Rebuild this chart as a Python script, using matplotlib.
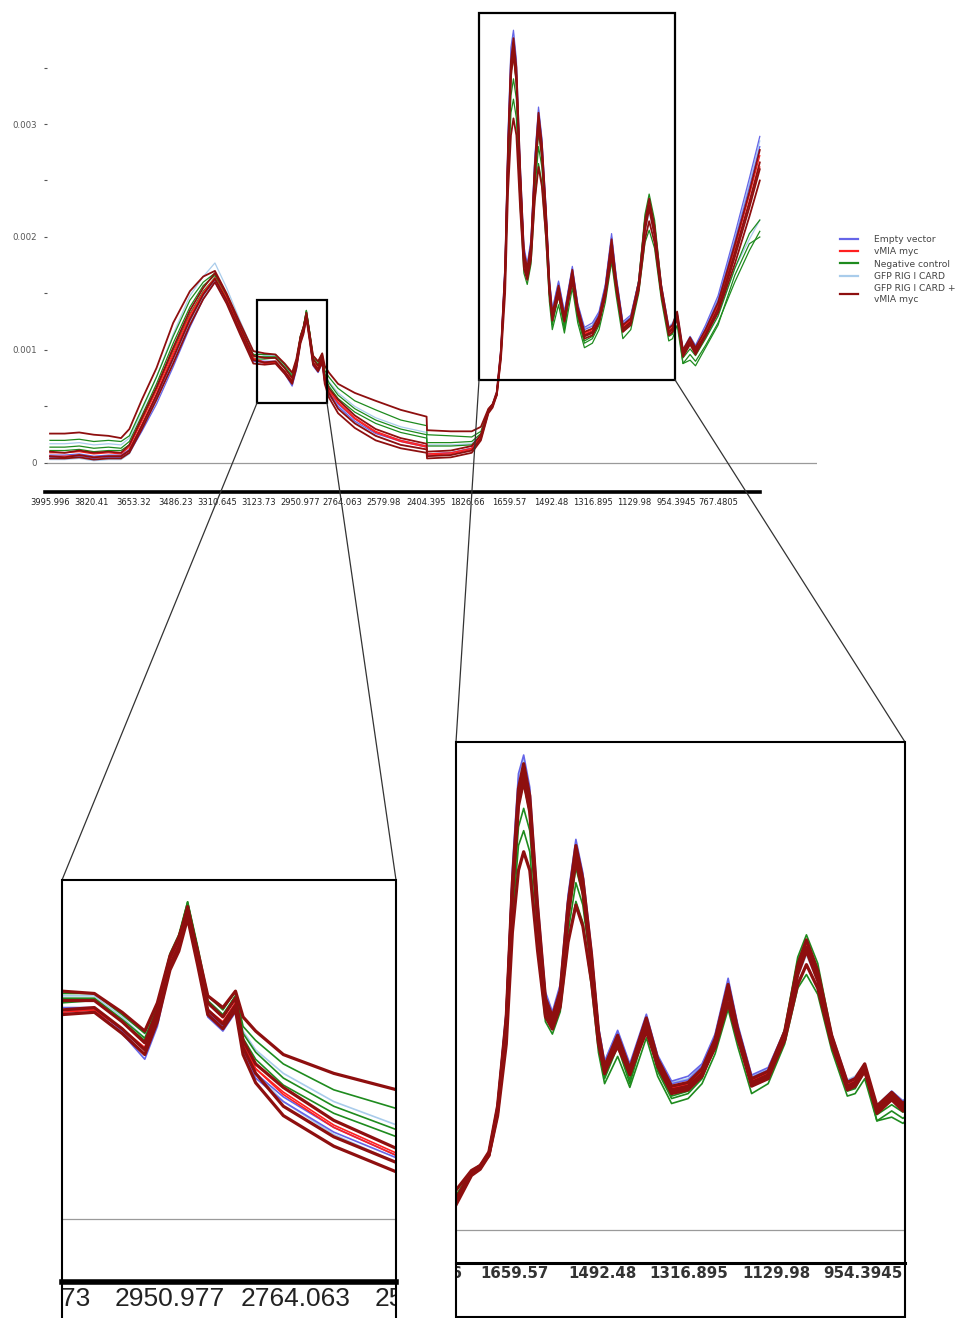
import numpy as np
import matplotlib.pyplot as plt
from matplotlib.lines import Line2D
from matplotlib.patches import Rectangle, ConnectionPatch
from matplotlib.transforms import Bbox, TransformedBbox

# category axis: one unit between two printed wavenumber labels
wavenumber_labels = ["3995.996", "3820.41", "3653.32", "3486.23", "3310.645",
                     "3123.73", "2950.977", "2764.063", "2579.98", "2404.395",
                     "1826.66", "1659.57", "1492.48", "1316.895", "1129.98",
                     "954.3945", "767.4805"]

position = [
    0.00, 0.35, 0.70, 1.05, 1.40, 1.70,
    1.90, 2.20, 2.55, 2.95, 3.35, 3.67, 3.95, 4.23, 4.55, 4.87,
    5.14, 5.40, 5.62, 5.80, 5.90, 6.00, 6.07, 6.14, 6.22, 6.30, 6.42, 6.52, 6.58, 6.68,
    6.90, 7.30, 7.80, 8.40, 9.02, 9.03, 9.60, 10.10,
    10.32, 10.50, 10.60, 10.70, 10.80, 10.90, 10.97, 11.04, 11.10, 11.17,
    11.26, 11.35, 11.43, 11.52, 11.61, 11.70, 11.78, 11.88, 11.96, 12.03,
    12.18, 12.32, 12.51, 12.64, 12.80, 12.99, 13.15, 13.30, 13.45, 13.56,
    13.72, 13.91, 14.10, 14.25, 14.35, 14.48, 14.64, 14.82, 14.91, 15.02,
    15.16, 15.33, 15.46, 15.70, 16.00, 16.40, 16.75, 17.00,
]

# absorbance of each replicate, in units of 1e-5
empty_vector = [
    [5, 5, 6, 4, 5, 5,
     9, 28, 52, 85, 120, 145, 160, 142, 115, 90,
     89, 89, 79, 68, 82, 107, 115, 129, 109, 86, 80, 88, 71, 60,
     50, 37, 26, 19, 14, 8, 9, 13,
     24, 47, 52, 63, 102, 178, 292, 368, 383, 357,
     266, 192, 176, 198, 270, 315, 288, 226, 164, 136,
     161, 134, 174, 141, 120, 124, 134, 158, 203, 166,
     125, 131, 161, 210, 228, 205, 158, 120, 123, 133,
     100, 112, 104, 122, 148, 202, 252, 289],
    [7, 7, 8, 6, 7, 7,
     12, 33, 58, 92, 126, 149, 162, 144, 117, 91,
     90, 90, 80, 70, 84, 108, 116, 130, 110, 88, 82, 90, 72, 62,
     52, 39, 27, 20, 15, 8, 9, 13,
     24, 46, 51, 62, 100, 174, 284, 360, 372, 348,
     260, 188, 173, 195, 266, 310, 284, 223, 162, 134,
     159, 132, 172, 139, 118, 121, 132, 156, 200, 164,
     123, 129, 160, 211, 229, 206, 156, 119, 122, 133,
     99, 110, 102, 119, 144, 196, 244, 280],
]

vmia_myc = [
    [6, 6, 7, 5, 6, 6,
     11, 34, 61, 96, 129, 150, 163, 145, 118, 92,
     88, 89, 81, 73, 87, 109, 117, 131, 111, 89, 83, 92, 74, 64,
     53, 39, 27, 19, 14, 7, 8, 12,
     23, 46, 51, 62, 99, 171, 278, 354, 370, 345,
     258, 186, 171, 192, 262, 308, 281, 221, 159, 131,
     156, 129, 170, 137, 115, 118, 129, 153, 197, 161,
     121, 127, 158, 210, 229, 205, 155, 117, 120, 132,
     98, 109, 100, 116, 140, 190, 237, 272],
    [9, 9, 10, 8, 9, 8,
     14, 37, 64, 98, 131, 151, 164, 146, 119, 93,
     89, 89, 81, 72, 86, 108, 116, 130, 110, 89, 84, 92, 74, 64,
     54, 40, 28, 20, 15, 8, 9, 13,
     24, 46, 51, 62, 98, 168, 274, 348, 360, 338,
     254, 183, 168, 189, 256, 300, 276, 218, 157, 130,
     155, 128, 168, 136, 114, 117, 128, 151, 194, 159,
     120, 126, 158, 211, 230, 206, 155, 117, 120, 131,
     97, 108, 99, 115, 138, 186, 230, 262],
]

negative_control = [
    [20, 20, 21, 19, 20, 19,
     24, 48, 76, 112, 144, 160, 168, 148, 121, 96,
     96, 96, 87, 79, 91, 113, 121, 135, 116, 95, 89, 97, 82, 76,
     66, 55, 47, 38, 33, 25, 24, 23,
     28, 47, 52, 61, 95, 160, 258, 325, 340, 322,
     242, 178, 165, 183, 240, 280, 262, 207, 150, 122,
     148, 118, 164, 128, 106, 110, 122, 150, 190, 157,
     116, 124, 162, 220, 238, 215, 158, 112, 114, 128,
     88, 96, 90, 104, 124, 160, 188, 205],
    [14, 14, 15, 13, 14, 13,
     19, 42, 70, 106, 138, 157, 166, 146, 119, 94,
     94, 94, 85, 77, 90, 112, 120, 134, 115, 93, 87, 95, 79, 71,
     60, 48, 38, 30, 25, 18, 18, 19,
     26, 47, 52, 62, 97, 165, 268, 345, 360, 336,
     250, 180, 166, 186, 250, 292, 270, 212, 152, 124,
     150, 121, 165, 130, 108, 112, 124, 151, 193, 158,
     117, 125, 161, 217, 234, 211, 155, 113, 115, 130,
     93, 101, 95, 110, 130, 172, 203, 215],
    [11, 11, 12, 10, 11, 11,
     16, 38, 66, 100, 132, 152, 164, 144, 117, 92,
     92, 93, 84, 76, 89, 112, 120, 135, 115, 92, 86, 95, 77, 68,
     57, 45, 35, 27, 22, 15, 15, 16,
     24, 46, 51, 61, 95, 160, 250, 310, 322, 305,
     228, 168, 158, 176, 232, 265, 248, 196, 143, 118,
     140, 115, 155, 124, 102, 106, 118, 142, 178, 148,
     110, 118, 150, 195, 206, 190, 145, 108, 110, 122,
     88, 91, 86, 102, 122, 166, 194, 200],
]

gfp_rig_card = [
    [17, 17, 18, 16, 17, 16,
     22, 46, 76, 114, 148, 165, 177, 155, 126, 99,
     95, 95, 86, 77, 90, 112, 120, 133, 114, 93, 87, 95, 80, 72,
     62, 50, 40, 32, 27, 16, 16, 17,
     26, 47, 52, 63, 101, 175, 287, 364, 380, 353,
     262, 189, 174, 196, 268, 312, 286, 224, 163, 136,
     160, 133, 172, 140, 119, 122, 133, 157, 199, 164,
     124, 130, 161, 212, 231, 208, 158, 121, 124, 134,
     101, 112, 104, 120, 146, 198, 248, 285],
    [3, 3, 4, 2, 3, 3,
     8, 29, 55, 90, 124, 147, 162, 143, 116, 90,
     88, 88, 79, 70, 84, 107, 115, 129, 109, 87, 81, 89, 71, 62,
     50, 36, 24, 16, 12, 6, 7, 11,
     22, 45, 50, 61, 97, 168, 272, 345, 362, 337,
     252, 181, 166, 187, 255, 298, 273, 215, 155, 128,
     152, 126, 166, 134, 112, 115, 126, 150, 192, 157,
     118, 124, 155, 204, 222, 200, 152, 115, 118, 129,
     95, 105, 97, 110, 130, 172, 198, 215],
]

gfp_rig_card_vmia = [
    [26, 26, 27, 25, 24, 22,
     30, 56, 84, 124, 152, 165, 170, 150, 124, 99,
     97, 96, 88, 80, 92, 112, 120, 131, 114, 95, 90, 97, 86, 80,
     70, 62, 55, 47, 41, 29, 28, 28,
     32, 48, 52, 60, 92, 150, 240, 290, 305, 290,
     225, 172, 162, 180, 232, 262, 245, 200, 150, 128,
     148, 126, 160, 133, 113, 116, 126, 147, 183, 154,
     119, 125, 153, 198, 214, 195, 150, 116, 119, 129,
     98, 108, 100, 113, 133, 176, 218, 250],
    [10, 9, 11, 9, 10, 9,
     16, 40, 67, 102, 135, 155, 168, 149, 121, 95,
     93, 93, 84, 75, 89, 111, 119, 133, 113, 92, 86, 94, 76, 66,
     56, 42, 30, 22, 17, 10, 11, 15,
     25, 47, 52, 63, 100, 172, 280, 356, 376, 350,
     261, 187, 172, 193, 263, 310, 283, 222, 160, 132,
     157, 130, 171, 138, 116, 119, 130, 154, 198, 162,
     122, 128, 160, 214, 234, 209, 157, 119, 122, 134,
     100, 111, 102, 118, 142, 193, 240, 277],
    [6, 5, 7, 5, 6, 6,
     11, 33, 60, 93, 127, 149, 163, 144, 117, 91,
     89, 90, 81, 72, 86, 108, 116, 130, 110, 89, 83, 91, 73, 62,
     48, 35, 24, 16, 12, 6, 7, 11,
     22, 45, 50, 61, 97, 168, 274, 347, 368, 342,
     254, 182, 167, 188, 256, 302, 276, 217, 156, 128,
     153, 127, 167, 134, 112, 115, 126, 150, 192, 158,
     118, 124, 156, 209, 228, 204, 153, 115, 118, 130,
     96, 107, 98, 114, 137, 186, 231, 266],
    [4, 4, 5, 3, 4, 4,
     9, 30, 56, 88, 122, 145, 160, 141, 114, 88,
     87, 88, 79, 70, 84, 106, 114, 128, 108, 87, 81, 89, 70, 58,
     44, 31, 20, 13, 9, 4, 5, 9,
     20, 44, 49, 60, 95, 165, 270, 342, 362, 337,
     250, 178, 164, 185, 252, 298, 272, 214, 153, 126,
     151, 125, 165, 132, 110, 113, 124, 148, 190, 156,
     116, 122, 154, 206, 225, 201, 150, 113, 116, 128,
     94, 105, 96, 112, 134, 182, 226, 260],
]

group_names = ["Empty vector", "vMIA myc", "Negative control",
               "GFP RIG I CARD", "GFP RIG I CARD +\nvMIA myc"]
group_colors = ["#6565E8", "#FF2020", "#1E8B1E", "#A9CCEB", "#8E0F0F"]
group_data = [empty_vector, vmia_myc, negative_control, gfp_rig_card, gfp_rig_card_vmia]
draw_order = [3, 2, 0, 1, 4]
UNIT = 1e-5

W, H = 956, 1318
fig = plt.figure(figsize=(W / 100, H / 100), dpi=100)


def axes_px(x0, y0, x1, y1):
    return fig.add_axes([x0 / W, 1 - y1 / H, (x1 - x0) / W, (y1 - y0) / H])


def bbox_px(x0, y0, x1, y1):
    return TransformedBbox(Bbox([[x0 / W, 1 - y1 / H], [x1 / W, 1 - y0 / H]]),
                           fig.transFigure)


def draw_spectra(ax, lw_main, lw_other):
    for g in draw_order:
        for rep in group_data[g]:
            lw = lw_main if g == 4 else lw_other
            ax.plot(position, np.array(rep) * UNIT, color=group_colors[g], lw=lw,
                    solid_joinstyle="round")
    ax.axhline(0, color="#9a9a9a", lw=0.9, zorder=0)


# main spectrum
ax = axes_px(47, 10, 817, 492)
draw_spectra(ax, 1.3, 0.9)
ax.set_xlim(-0.072, 18.37)
ax.set_ylim(-0.000257, 0.004009)
for side in ["left", "top", "right"]:
    ax.spines[side].set_visible(False)
ax.spines["bottom"].set_linewidth(2.6)
ax.spines["bottom"].set_bounds(-0.12, 17.0)
ax.set_xticks(range(len(wavenumber_labels)))
ax.set_xticklabels(wavenumber_labels, fontsize=6, color="#222")
ax.tick_params(axis="x", length=0, pad=4)
yt = np.arange(0, 0.0036, 0.0005)
ax.set_yticks(yt)
ax.set_yticklabels(["0", "", "0.001", "", "0.002", "", "0.003", ""])
ax.tick_params(axis="y", length=2, width=0.8, color="#555", labelsize=6.2,
               labelcolor="#555", pad=5)

# zoom boxes on the main chart
small_box = (4.958, 0.000531, 6.635, 0.001442)
big_box = (10.275, 0.000735, 14.970, 0.003982)
for x0, y0, x1, y1 in [small_box, big_box]:
    ax.add_patch(Rectangle((x0, y0), x1 - x0, y1 - y0, fill=False, ec="black",
                           lw=1.6, clip_on=False, zorder=6))

# legend
handles = [Line2D([], [], color=c, lw=1.6) for c in group_colors]
fig.legend(handles, group_names, loc="upper left",
           bbox_to_anchor=(840 / W, 1 - 235 / H), frameon=False, borderpad=0,
           borderaxespad=0, fontsize=6.6, handlelength=2.0, handletextpad=1.7,
           labelspacing=0.36, labelcolor="#444")

# left inset (CH stretching region)
axl = axes_px(62, 880, 396, 1282)
draw_spectra(axl, 2.3, 1.2)
axl.set_xlim(5.143, 7.794)
axl.set_ylim(-0.000268, 0.001443)
# right inset (fingerprint region)
axr = axes_px(456, 742, 905, 1263)
draw_spectra(axr, 2.3, 1.2)
axr.set_xlim(10.322, 15.483)
axr.set_ylim(-0.000266, 0.003935)

insets = [
    (axl, (62, 880, 396, 1322), range(5, 9), -0.0423,
     dict(family="Liberation Sans", fontsize=19, color="#222"), 4.0),
    (axr, (456, 742, 905, 1317), range(10, 16), -0.0192,
     dict(family="DejaVu Sans", fontsize=10.8, fontweight="bold", color="#333"), 2.2),
]
for a, frame, ticks, ty, font, spine_lw in insets:
    a.set_xticks([])
    a.set_yticks([])
    for side in ["left", "top", "right"]:
        a.spines[side].set_visible(False)
    a.spines["bottom"].set_linewidth(spine_lw)
    x0, y0, x1, y1 = frame
    fig.add_artist(Rectangle((x0 / W, 1 - y1 / H), (x1 - x0) / W, (y1 - y0) / H,
                             transform=fig.transFigure, fill=False, ec="black",
                             lw=1.5, zorder=10))
    clip = bbox_px(x0 + 1, y0, x1 - 1, y1)
    for i in ticks:
        t = a.text(i, ty, wavenumber_labels[i], transform=a.get_xaxis_transform(),
                   ha="center", va="center", **font)
        # labels are cut by the frame, not by the axes
        t.set_clip_path(None)
        t.set_clip_box(clip)
        t.set_clip_on(True)

# connector lines from the boxes to the insets
for box, a in [(small_box, axl), (big_box, axr)]:
    for bx, fx in [(box[0], 0), (box[2], 1)]:
        con = ConnectionPatch(xyA=(bx, box[1]), coordsA="data", axesA=ax,
                              xyB=(fx, 1), coordsB="axes fraction", axesB=a,
                              color="#333", lw=0.9)
        fig.add_artist(con)

fig.savefig("out.png", dpi=100)
